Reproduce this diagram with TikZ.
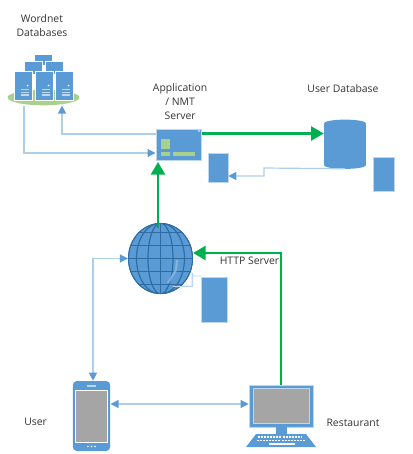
\documentclass[tikz,border=0pt]{standalone}
\usepackage{fontspec}
\setmainfont{Open Sans}
\usetikzlibrary{positioning,arrows.meta,shapes.geometric}
\definecolor{boxblue}{HTML}{5B9BD5}
\definecolor{edgeblue}{HTML}{BDD7EE}
\definecolor{darkblue}{HTML}{2E6CA4}
\definecolor{leafgreen}{HTML}{A9D18E}
\definecolor{linkgreen}{HTML}{00B050}
\definecolor{screengray}{HTML}{A5A5A5}
\begin{document}
\begin{tikzpicture}[
    x=0.75pt, y=-0.75pt,
    label/.style={align=center, font=\fontsize{7.8}{10.5}\selectfont, text=black!80, inner sep=0pt},
    block/.style={rectangle, draw=edgeblue, line width=0.5pt, fill=boxblue, inner sep=0pt},
    tower/.style={block, draw=white, minimum width=13.5pt, minimum height=21.75pt},
    green link/.style={-{Triangle[length=9.5pt,width=10.5pt]}, linkgreen, line width=2pt},
    thin link/.style={-{Triangle[length=6pt,width=6pt,color=boxblue]}, edgeblue!85!boxblue, line width=0.9pt},
    both link/.style={thin link, {Triangle[length=6pt,width=6pt,color=boxblue]}-{Triangle[length=6pt,width=6pt,color=boxblue]}}
  ]
    \useasboundingbox (0,0) rectangle (412,454);

    % Wordnet databases
    \node[ellipse, fill=leafgreen, minimum width=54pt, minimum height=11.7pt, inner sep=0pt] (wordnet) at (43.5,97.5) {};
    \node[block, draw=none, minimum width=12.75pt, minimum height=8pt] (rackc) at (43.5,60) {};
    \node[tower, minimum width=13.5pt, minimum height=10pt] (rackd) at (33,68) {};
    \node[tower, minimum width=13.5pt, minimum height=10pt] (racke) at (54,68) {};
    \node[tower] (racka) at (23,85.5) {};
    \node[tower] (rackb) at (44,85.5) {};
    \node[tower] (rackf) at (64,85.5) {};
    \foreach \rack in {racka,rackb,rackf} {
      \fill[edgeblue] ([shift={(-1.5pt,-2.3pt)}]\rack.center) rectangle ([shift={(4.5pt,-3.5pt)}]\rack.center);
      \fill[edgeblue] ([shift={(-1.5pt,-4.5pt)}]\rack.center) rectangle ([shift={(4.5pt,-5.7pt)}]\rack.center);
      \fill[edgeblue] ([shift={(-1.5pt,-6.7pt)}]\rack.center) rectangle ([shift={(4.5pt,-7.9pt)}]\rack.center);
      \fill[white] ([shift={(3.5pt,0pt)}]\rack.center) circle (0.7pt);
    }
    \node[label] (wordnetlabel) at (42,26) {Wordnet\\Databases};

    % Application server
    \node[block, minimum width=34pt, minimum height=23.5pt] (appserver) at (178.5,144.5) {};
    \fill[leafgreen] (161,139) rectangle (170,149);
    \fill[leafgreen] (161,152) rectangle (170,156);
    \fill[leafgreen] (173,152) rectangle (195,156);
    \fill[white] (199,131) circle (0.7pt);
    \node[label, above=5pt of appserver, xshift=1.2pt, yshift=1.2pt] (applabel) {Application\\/ NMT\\Server};
    \node[block, minimum width=15pt, minimum height=22pt] (appnote) at (218,167.5) {};

    % User database
    \node[rectangle, fill=boxblue, minimum width=31.5pt, minimum height=31pt, inner sep=0pt] (userdb) at (345,144.25) {};
    \fill[boxblue] (userdb.north) ellipse (21 and 3.7);
    \fill[boxblue] (userdb.south) ellipse (21 and 3.7);
    \node[label] (dblabel) at (343,89) {User Database};
    \node[block, minimum width=15.5pt, minimum height=25.5pt] (dbnote) at (383.5,174) {};

    % Globe
    \draw[edgeblue, line width=0.6pt] (201,276) -- (194,276) -- (192,273) -- (192,286) -- (173,286);
    \node[ellipse, draw=darkblue, line width=0.8pt, fill=boxblue, minimum width=48pt, minimum height=52.5pt, inner sep=0pt] (globe) at (160.5,258.5) {};
    \begin{scope}
      \clip (160.5,258.5) ellipse (32.5 and 35.5);
      \foreach \yy in {-26,-13,0,13,26}
        \draw[darkblue, line width=0.9pt] (128,258.5+\yy) -- (193,258.5+\yy);
      \foreach \xx in {12.5,24,32.5}
        \draw[darkblue, line width=0.9pt] (160.5,258.5) ellipse (\xx pt*0.75 and 35.5*0.75pt);
      \draw[darkblue, line width=0.9pt] (160.5,223) -- (160.5,294);
    \end{scope}
    \draw[edgeblue, line width=0.6pt] (192,273) -- (192,286) -- (173,286);
    \draw[edgeblue!60!boxblue, line width=1.5pt, opacity=0.7] (177,260) -- (176,270) -- (168,283);
    \node[block, minimum width=19.5pt, minimum height=33.5pt] (globenote) at (214,299.5) {};

    % Phone
    \node[block, draw=none, rounded corners=3pt, minimum width=28pt, minimum height=52.5pt] (phone) at (91.5,416) {};
    \node[rectangle, draw=white, line width=0.4pt, fill=screengray, minimum width=24pt, minimum height=38.5pt, inner sep=0pt] (phonescreen) at (91.5,416.3) {};
    \foreach \dx in {-3.5,0,3.5}
      \fill[white] (91.5+\dx,446.5) circle (0.7pt);
    \fill[edgeblue] (87,385) rectangle (96,386.5);
    \node[label, left=19pt of phone, yshift=-4.5pt] (userlabel) {User};

    % Computer
    \node[block, draw=edgeblue, minimum width=48pt, minimum height=31.5pt] (monitor) at (281,406) {};
    \node[rectangle, draw=edgeblue, line width=0.4pt, fill=screengray, minimum width=42pt, minimum height=26pt, inner sep=0pt] (screen) at (281.5,405.5) {};
    \node[block, draw=none, minimum width=8.25pt, minimum height=5pt] (stand) at (281.5,430.5) {};
    \fill[boxblue] (256,434) -- (306,434) -- (316,447) -- (246,447) -- cycle;
    \foreach \row/\xa/\xb in {437/258/302, 440.5/257/305} {
      \draw[white, line width=1.2pt, dash pattern=on 1.5pt off 0.8pt] (\xa,\row) -- (\xb,\row);
    }
    \fill[white] (269,443.2) rectangle (295,445);
    \node[label] (restlabel) at (353,423) {Restaurant};
    \node[label] (httplabel) at (249.5,261) {HTTP Server};

    % Connections
    \draw[green link] (appserver.east |- 0,133.5) -- (userdb.west |- 0,133.5);
    \draw[green link] (158,228) -- (158,162);
    \draw[green link] (monitor.north -| 281,0) -- (281,253) -- (globe.east |- 0,253);
    \draw[thin link] (appserver.west |- 0,134) -- (62,134) -- (wordnet.south -| 62,0);
    \draw[thin link] (wordnet.south -| 24,0) -- (24,153) -- (appserver.west |- 0,153);
    \draw[thin link] ([yshift=-2.7pt]userdb.south) -- (264,168) -- (264,176) -- (appnote.east |- 0,176);
    \draw[both link] (globe.west) -| (phone.north -| 93,0);
    \draw[both link] (phone.east |- 0,404) -- (monitor.west |- 0,404);
\end{tikzpicture}
\end{document}
